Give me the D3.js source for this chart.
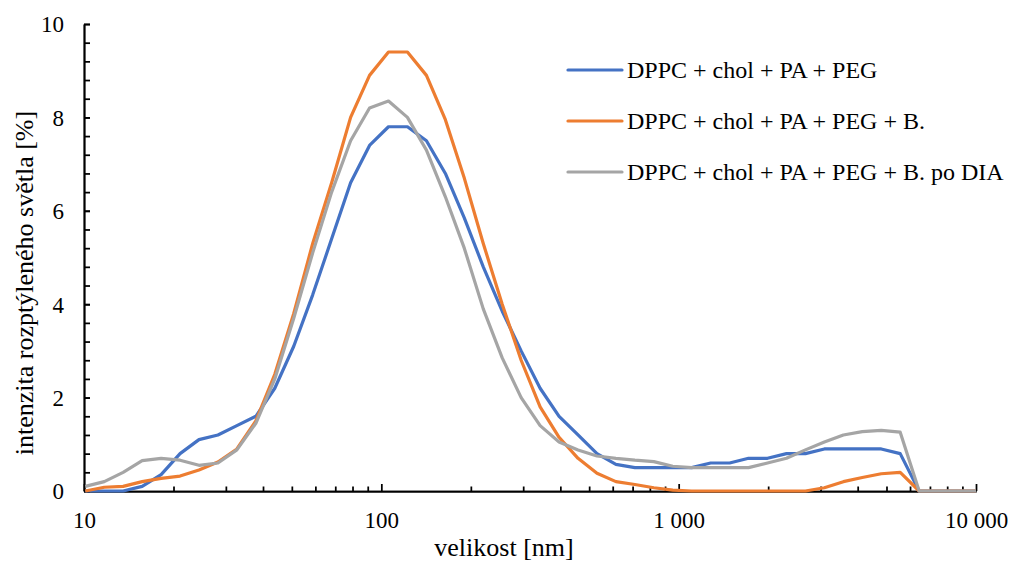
<!DOCTYPE html>
<html>
<head>
<meta charset="utf-8">
<script src="https://cdn.jsdelivr.net/npm/d3@7"></script>
<style>
    body { margin: 0; background: #ffffff; }
    svg { display: block; }
    .axis path, .axis line { stroke: #000000; stroke-width: 1.75px; }
</style>
</head>
<body>
<svg id="chart"></svg>
<script>

// size bins [nm] (Zetasizer classes from 10 nm up)
const sizes = [10.1, 11.7, 13.54, 15.69, 18.17, 21.04, 24.36, 28.21, 32.67, 37.84,
    43.82, 50.75, 58.77, 68.06, 78.82, 91.28, 105.7, 122.4, 141.8, 164.2,
    190.1, 220.2, 255.0, 295.3, 342.0, 396.1, 458.7, 531.2, 615.1, 712.4,
    825.0, 955.4, 1106, 1281, 1484, 1718, 1990, 2305, 2669, 3091,
    3580, 4145, 4801, 5560, 6439, 7456, 8635, 10000];

// intensity [%]
const pegValues = [0, 0, 0, 0.1, 0.35, 0.8, 1.1, 1.2, 1.4, 1.6,
    2.2, 3.1, 4.2, 5.4, 6.6, 7.4, 7.8, 7.8, 7.5, 6.8,
    5.85, 4.8, 3.85, 3.0, 2.2, 1.6, 1.2, 0.8, 0.57, 0.5,
    0.5, 0.5, 0.5, 0.6, 0.6, 0.7, 0.7, 0.8, 0.8, 0.9,
    0.9, 0.9, 0.9, 0.8, 0, 0, 0, 0];

const pegBValues = [0, 0.08, 0.1, 0.2, 0.27, 0.32, 0.45, 0.62, 0.9, 1.5,
    2.5, 3.8, 5.3, 6.6, 8.0, 8.9, 9.4, 9.4, 8.9, 7.95,
    6.7, 5.3, 4.0, 2.8, 1.8, 1.15, 0.7, 0.38, 0.2, 0.14,
    0.07, 0.02, 0, 0, 0, 0, 0, 0, 0, 0.07,
    0.2, 0.29, 0.37, 0.4, 0, 0, 0, 0];

const pegBDiaValues = [0.1, 0.2, 0.4, 0.65, 0.7, 0.66, 0.55, 0.6, 0.88, 1.45,
    2.4, 3.7, 5.1, 6.4, 7.5, 8.2, 8.35, 8.0, 7.3, 6.3,
    5.2, 3.9, 2.85, 2.0, 1.4, 1.05, 0.88, 0.75, 0.7, 0.66,
    0.63, 0.53, 0.5, 0.5, 0.5, 0.5, 0.6, 0.7, 0.88, 1.05,
    1.2, 1.27, 1.3, 1.26, 0, 0, 0, 0];

const seriesNames = ["DPPC + chol + PA + PEG", "DPPC + chol + PA + PEG + B.", "DPPC + chol + PA + PEG + B. po DIA"];
const seriesColors = ["#4472C4", "#ED7D31", "#A5A5A5"];

const xMajorTicks = [10, 100, 1000, 10000];
const yMajorTicks = [0, 2, 4, 6, 8, 10];

const width = 1010, height = 562;
const plot = {left: 84, right: 976, top: 24, bottom: 491};
const serif = "Liberation Serif";

const svg = d3.select("#chart")
    .attr("width", width)
    .attr("height", height);

const x = d3.scaleLog().domain([10, 10000]).range([plot.left, plot.right]);
const y = d3.scaleLinear().domain([0, 10]).range([plot.bottom, plot.top]);

// thousands with a space, as in the original
const czFormat = d3.formatLocale({decimal: ",", thousands: " ", grouping: [3], currency: ["", ""]}).format(",");

// minor ticks: 2..9 in every decade
let xMinorTicks = [];
for (let dec = 10; dec < 10000; dec *= 10) {
    for (let k = 2; k <= 9; k++) xMinorTicks.push(dec * k);
}
let yMinorTicks = d3.range(0, 26).map(i => i * 0.4);

// y axis (ticks point inward)
svg.append("g")
    .attr("class", "axis")
    .attr("transform", `translate(${plot.left},0)`)
    .call(d3.axisLeft(y).tickValues(yMinorTicks).tickSize(-6).tickSizeOuter(0).tickFormat(""));

svg.append("g")
    .attr("class", "axis")
    .attr("transform", `translate(${plot.left},0)`)
    .call(d3.axisLeft(y).tickValues(yMajorTicks).tickSize(-6).tickSizeOuter(0).tickPadding(20))
    .attr("font-family", serif)
    .attr("font-size", 23)
    .call(g => g.selectAll("text").attr("dy", "0.34em"));

// x axis
svg.append("g")
    .attr("class", "axis")
    .attr("transform", `translate(0,${plot.bottom})`)
    .call(d3.axisBottom(x).tickValues(xMinorTicks).tickSize(-4.5).tickSizeOuter(0).tickFormat(""));

svg.append("g")
    .attr("class", "axis")
    .attr("transform", `translate(0,${plot.bottom})`)
    .call(d3.axisBottom(x).tickValues(xMajorTicks).tickSize(-7).tickSizeOuter(0).tickFormat(czFormat))
    .attr("font-family", serif)
    .attr("font-size", 23)
    .call(g => g.selectAll("text").attr("y", 37).attr("dy", 0));

// axis titles
svg.append("text")
    .attr("x", 504)
    .attr("y", 556)
    .attr("text-anchor", "middle")
    .attr("font-family", serif)
    .attr("font-size", 26)
    .text("velikost [nm]");

svg.append("text")
    .attr("transform", "translate(33,283) rotate(-90)")
    .attr("text-anchor", "middle")
    .attr("font-family", serif)
    .attr("font-size", 26)
    .text("intenzita rozptýleného světla [%]");

// series lines
const allValues = [pegValues, pegBValues, pegBDiaValues];
const line = d3.line()
    .x(d => x(d[0]))
    .y(d => y(d[1]));

allValues.forEach((vals, i) => {
    svg.append("path")
        .datum(sizes.map((s, j) => [s, vals[j]]))
        .attr("fill", "none")
        .attr("stroke", seriesColors[i])
        .attr("stroke-width", 3.2)
        .attr("stroke-linejoin", "round")
        .attr("d", line);
});

// legend
const legend = svg.append("g").attr("transform", "translate(568,70)");
seriesNames.forEach((name, i) => {
    let row = legend.append("g").attr("transform", `translate(0,${i * 51})`);
    row.append("line")
        .attr("x1", 0).attr("x2", 54)
        .attr("y1", 0).attr("y2", 0)
        .attr("stroke", seriesColors[i])
        .attr("stroke-width", 3.2)
        .attr("stroke-linecap", "round");
    row.append("text")
        .attr("x", 59)
        .attr("y", 8.3)
        .attr("font-family", serif)
        .attr("font-size", 24)
        .text(name);
});

</script>
</body>
</html>
